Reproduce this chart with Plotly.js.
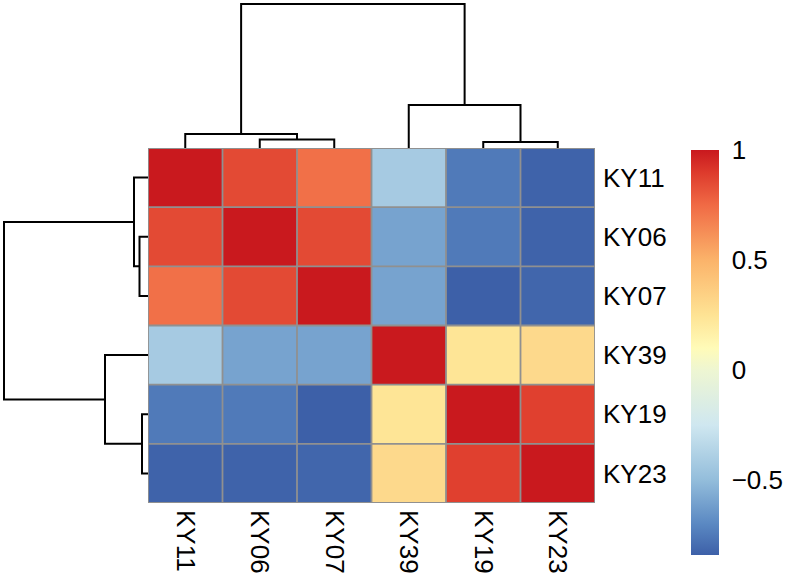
<!DOCTYPE html>
<html><head><meta charset="utf-8">
<script src="https://cdn.plot.ly/plotly-3.0.1.min.js"></script>
<style>html,body{margin:0;padding:0;background:#fff}#chart{width:787px;height:580px}</style>
</head><body><div id="chart"></div>
<script>
// Samples in clustered display order
const samples = ['KY11', 'KY06', 'KY07', 'KY39', 'KY19', 'KY23'];
// Correlation rows
const rowKY11 = [1.00, 0.85, 0.73, -0.42, -0.75, -0.83];
const rowKY06 = [0.85, 1.00, 0.85, -0.60, -0.75, -0.83];
const rowKY07 = [0.73, 0.85, 1.00, -0.60, -0.84, -0.82];
const rowKY39 = [-0.42, -0.60, -0.60, 1.00, 0.24, 0.30];
const rowKY19 = [-0.75, -0.75, -0.84, 0.24, 1.00, 0.88];
const rowKY23 = [-0.83, -0.83, -0.82, 0.30, 0.88, 1.00];
// Dendrogram (hclust-style merges; negative = leaf position 1..6, positive = earlier merge)
const mergeA = [-5, -2, -1, -4, 3];
const mergeB = [-6, -3, 2, 1, 4];
const mergeHeight = [6, 8.5, 14, 43, 144];
// Colour bar ticks
const cbTicks = [-0.5, 0, 0.5, 1];
// Colour stops (value, colour)
const stopValues = [-0.84, -0.70, -0.50, -0.25, 0.00, 0.10, 0.25, 0.50, 0.75, 0.90, 1.00];
const stopColors = ['#3D60A8', '#5A88C2', '#93BDDB', '#CFE7F0', '#EEF6D2', '#FFFBB8', '#FEE394', '#FBB36A', '#F06A45', '#DD3A2C', '#C9191E'];

const z = [rowKY11, rowKY06, rowKY07, rowKY39, rowKY19, rowKY23];
const zmin = stopValues[0];
const zmax = stopValues[stopValues.length - 1];
const colorscale = stopValues.map((v, i) => [(v - zmin) / (zmax - zmin), stopColors[i]]);

const W = 787, H = 580;
const hmL = 148, hmR = 595, hmT = 148, hmB = 503;
const px = v => v / W, py = v => 1 - v / H;

// Build dendrogram segments
function dendro() {
  const pos = [], hts = [];
  const segA = [], segB = [];
  function node(id) {
    if (id < 0) return { p: -id - 1, h: 0 };
    return { p: pos[id - 1], h: hts[id - 1] };
  }
  for (let i = 0; i < mergeA.length; i++) {
    const a = node(mergeA[i]), b = node(mergeB[i]), h = mergeHeight[i];
    segA.push(a.p, a.p, b.p, b.p, null);
    segB.push(a.h, h, h, b.h, null);
    pos.push((a.p + b.p) / 2); hts.push(h);
  }
  return { p: segA, h: segB };
}
const d = dendro();
const font = 'Liberation Sans, Arial, Helvetica, sans-serif';

const traces = [
  {
    type: 'heatmap', x: samples, y: samples, z: z, zmin: zmin, zmax: zmax,
    colorscale: colorscale, xaxis: 'x', yaxis: 'y',
    colorbar: {
      x: px(691), xanchor: 'left', y: py(150), yanchor: 'top',
      len: 405, lenmode: 'pixels', thickness: 28, thicknessmode: 'pixels',
      xpad: 0, ypad: 0, outlinewidth: 0, tickvals: cbTicks,
      ticks: 'outside', ticklen: 8, tickcolor: 'rgba(0,0,0,0)',
      tickfont: { family: font, size: 26, color: '#000' }
    }
  },
  {
    type: 'scatter', mode: 'lines', x: d.p, y: d.h, xaxis: 'x2', yaxis: 'y2',
    line: { color: '#000', width: 2 }, hoverinfo: 'skip', showlegend: false
  },
  {
    type: 'scatter', mode: 'lines', x: d.h, y: d.p, xaxis: 'x3', yaxis: 'y3',
    line: { color: '#000', width: 2 }, hoverinfo: 'skip', showlegend: false
  }
];

// grey cell borders
const shapes = [];
for (let i = 0; i <= samples.length; i++) {
  shapes.push({ type: 'line', xref: 'x', yref: 'y', x0: i - 0.5, x1: i - 0.5, y0: -0.5, y1: samples.length - 0.5, line: { color: '#909090', width: 1.8 } });
  shapes.push({ type: 'line', xref: 'x', yref: 'y', y0: i - 0.5, y1: i - 0.5, x0: -0.5, x1: samples.length - 0.5, line: { color: '#909090', width: 1.8 } });
}

const n = samples.length;
const hidden = { showgrid: false, zeroline: false, showticklabels: false, ticks: '', showline: false };
const layout = {
  width: W, height: H, margin: { l: 0, r: 0, t: 0, b: 0 },
  paper_bgcolor: '#fff', plot_bgcolor: '#fff', showlegend: false,
  xaxis: {
    domain: [px(hmL), px(hmR)], anchor: 'y', range: [-0.5, n - 0.5], type: 'category',
    tickangle: 90, ticks: '', ticklabelstandoff: 6, showgrid: false, zeroline: false, showline: false,
    tickfont: { family: font, size: 26, color: '#000' }
  },
  yaxis: {
    domain: [py(hmB), py(hmT)], anchor: 'x', range: [n - 0.5, -0.5], type: 'category',
    side: 'right', ticks: '', ticklabelstandoff: 7, showgrid: false, zeroline: false, showline: false,
    tickfont: { family: font, size: 26, color: '#000' }
  },
  xaxis2: Object.assign({ domain: [px(hmL), px(hmR)], anchor: 'y2', range: [-0.5, n - 0.5] }, hidden),
  yaxis2: Object.assign({ domain: [py(hmT), 1], anchor: 'x2', range: [0, hmT] }, hidden),
  xaxis3: Object.assign({ domain: [0, px(hmL)], anchor: 'y3', range: [hmL, 0] }, hidden),
  yaxis3: Object.assign({ domain: [py(hmB), py(hmT)], anchor: 'x3', range: [n - 0.5, -0.5] }, hidden),
  shapes: shapes
};

Plotly.newPlot('chart', traces, layout, { displayModeBar: false, staticPlot: true });
</script>
</body></html>
